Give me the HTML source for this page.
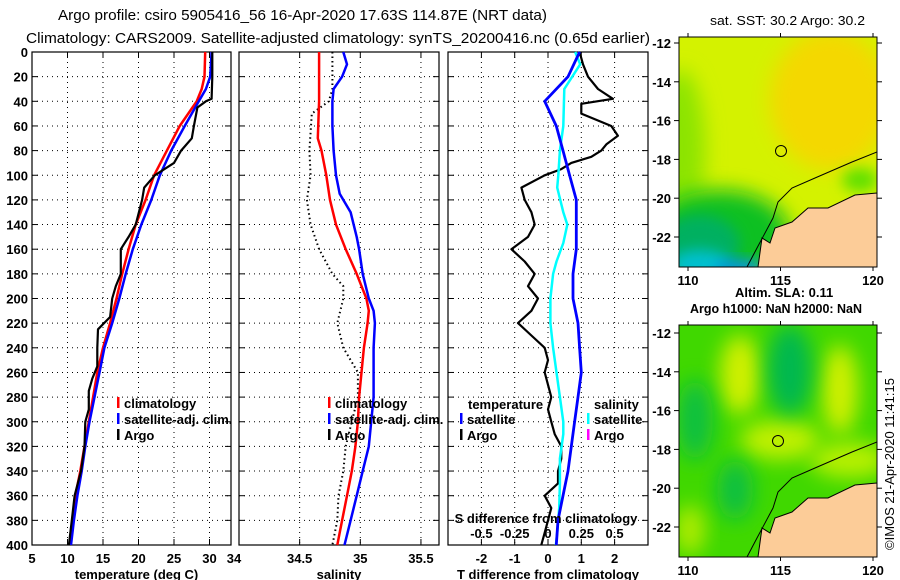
<!DOCTYPE html>
<html><head><meta charset="utf-8"><style>
html,body{margin:0;padding:0;background:#fff;}
svg{display:block;font-family:"Liberation Sans",sans-serif;}
.tk{font-size:13px;font-weight:bold;fill:#000;}
.lg{font-size:13px;font-weight:bold;fill:#000;}
</style></head><body>
<svg id="chart" width="900" height="580" viewBox="0 0 900 580" xmlns="http://www.w3.org/2000/svg">
<defs>
<filter id="bl" x="-50%" y="-50%" width="200%" height="200%"><feGaussianBlur stdDeviation="10"/></filter>
<filter id="bl2" x="-50%" y="-50%" width="200%" height="200%"><feGaussianBlur stdDeviation="7"/></filter>
<clipPath id="c1"><rect x="679" y="37" width="198" height="230"/></clipPath>
<clipPath id="c2"><rect x="679" y="325" width="198" height="232"/></clipPath>
</defs>
<text x="58" y="20" font-size="15" textLength="489" lengthAdjust="spacingAndGlyphs">Argo profile: csiro 5905416_56 16-Apr-2020 17.63S 114.87E (NRT data)</text>
<text x="26" y="43" font-size="15" textLength="624" lengthAdjust="spacingAndGlyphs">Climatology: CARS2009. Satellite-adjusted climatology: synTS_20200416.nc (0.65d earlier)</text>
<g id="panels"></g>
<!-- maps -->
<g>
 <g clip-path="url(#c1)">
  <rect x="679" y="37" width="198" height="230" fill="#d4f200"/>
  <ellipse cx="830" cy="100" rx="60" ry="70" fill="#f4d800" filter="url(#bl)"/>
  <ellipse cx="680" cy="150" rx="25" ry="80" fill="#8ce400" filter="url(#bl)"/>
  <ellipse cx="720" cy="235" rx="70" ry="45" fill="#10c020" filter="url(#bl)"/>
  <ellipse cx="700" cy="245" rx="40" ry="30" fill="#00b060" filter="url(#bl2)"/>
  <ellipse cx="700" cy="265" rx="30" ry="15" fill="#00c0d0" filter="url(#bl2)"/>
  <ellipse cx="740" cy="268" rx="25" ry="8" fill="#0090f0" filter="url(#bl2)"/>
  <ellipse cx="860" cy="180" rx="18" ry="12" fill="#60e000" filter="url(#bl2)"/>
  <path d="M758,267 L762,238 L770,243 L775,228 L792,222 L808,208 L828,208 L855,195 L877,193 L877,267 Z" fill="#fccc98" stroke="#000" stroke-width="1"/>
  <path d="M877,152 L852,162 L815,178 L792,188 L778,202 L773,218 L757,248 L747,267" fill="none" stroke="#000" stroke-width="1"/>
  <circle cx="781" cy="151" r="5.5" fill="none" stroke="#000" stroke-width="1"/>
 </g>
 <rect x="679" y="37" width="198" height="230" fill="none" stroke="#000" stroke-width="1"/>
</g>
<g>
 <g clip-path="url(#c2)">
  <rect x="679" y="325" width="198" height="232" fill="#40d800"/>
  <ellipse cx="740" cy="375" rx="20" ry="40" fill="#d0f000" filter="url(#bl)"/>
  <ellipse cx="840" cy="390" rx="18" ry="45" fill="#d0f000" filter="url(#bl)"/>
  <ellipse cx="780" cy="440" rx="40" ry="20" fill="#c0f000" filter="url(#bl)"/>
  <ellipse cx="790" cy="370" rx="22" ry="45" fill="#00b850" filter="url(#bl)"/>
  <ellipse cx="695" cy="420" rx="18" ry="40" fill="#10c040" filter="url(#bl)"/>
  <ellipse cx="735" cy="490" rx="18" ry="30" fill="#10c040" filter="url(#bl)"/>
  <ellipse cx="850" cy="460" rx="40" ry="18" fill="#b8f000" filter="url(#bl)"/>
  <ellipse cx="690" cy="530" rx="15" ry="25" fill="#b0ec00" filter="url(#bl)"/>
  <path d="M758,557 L762,528 L770,533 L775,518 L792,512 L808,498 L828,498 L855,485 L877,483 L877,557 Z" fill="#fccc98" stroke="#000" stroke-width="1"/>
  <path d="M877,442 L852,452 L815,468 L792,478 L778,492 L773,508 L757,538 L747,557" fill="none" stroke="#000" stroke-width="1"/>
  <circle cx="778" cy="441" r="5.5" fill="none" stroke="#000" stroke-width="1"/>
 </g>
 <rect x="679" y="325" width="198" height="232" fill="none" stroke="#000" stroke-width="1"/>
</g>
<text x="710" y="25" font-size="13" textLength="155" lengthAdjust="spacingAndGlyphs">sat. SST: 30.2 Argo: 30.2</text>
<text class="tk" x="735" y="297">Altim. SLA: 0.11</text>
<text class="tk" x="690" y="313" textLength="172" lengthAdjust="spacingAndGlyphs">Argo h1000: NaN h2000: NaN</text>
<text font-size="13" transform="translate(894,550) rotate(-90)">©IMOS 21-Apr-2020 11:41:15</text>
<g id="mapaxes"></g>
</svg>
<script>
// ---- data ----
const depthT = [0,20,30,40,60,80,100,120,140,160,180,200,220,240,260,280,300,320,340,360,380,400];
const climT  = [29.4,29.3,28.9,28.2,25.8,24.0,22.2,21.0,19.6,18.6,17.7,16.9,16.0,15.0,14.2,13.6,13.0,12.4,11.8,11.1,10.7,10.4];
const satT   = [30.3,30.1,29.5,28.5,26.5,24.6,23.0,21.8,20.4,19.2,18.2,17.3,16.3,15.2,14.5,13.8,13.1,12.5,12.0,11.4,10.9,10.5];
const argoDepthT = [0,20,38,40,45,60,70,80,90,100,110,120,140,150,160,180,190,200,215,225,240,255,265,275,290,300,320,340,360,380,400];
const argoT  = [30.4,30.4,30.3,29.5,28.3,27.8,27.5,26.0,25.0,22.3,20.8,20.5,19.6,18.6,17.5,17.5,16.8,16.3,16.0,14.3,14.2,14.2,13.5,13.0,13.0,12.5,12.4,11.9,11.0,10.6,10.2];
const depthS = [0,40,70,80,100,120,140,160,180,200,210,220,240,260,280,300,320,340,360,380,400];
const climS  = [34.66,34.66,34.65,34.68,34.72,34.75,34.80,34.88,34.97,35.05,35.07,35.06,35.03,35.01,34.99,34.98,34.96,34.93,34.89,34.85,34.81];
const satDepthS = [0,10,20,30,40,60,80,100,115,130,150,160,180,200,210,220,240,260,280,300,320,340,360,380,400];
const satS   = [34.86,34.89,34.85,34.78,34.77,34.77,34.78,34.80,34.83,34.92,34.97,34.99,35.02,35.07,35.11,35.12,35.11,35.11,35.11,35.09,35.07,35.02,34.97,34.92,34.87];
const argoDepthS = [0,30,40,50,80,100,120,140,160,180,190,200,220,240,260,280,300,320,340,360,380,400];
const argoS  = [34.77,34.77,34.74,34.60,34.58,34.59,34.56,34.59,34.66,34.77,34.86,34.86,34.81,34.86,34.98,34.98,34.93,34.88,34.86,34.82,34.81,34.77];
const argoDepthD = [0,10,20,30,38,42,50,60,68,75,80,85,90,95,100,110,120,130,140,150,160,170,180,190,200,210,220,230,240,250,260,270,280,290,300,310,320,330,340,350,360,370,380,390,400];
const argoDT = [0.95,1.05,1.2,1.5,1.95,1.0,1.0,1.9,2.1,1.75,1.6,1.3,0.7,0.4,-0.1,-0.8,-0.7,-0.5,-0.4,-0.6,-1.1,-0.7,-0.4,-0.6,-0.3,-0.5,-0.9,-0.5,-0.1,0.0,-0.1,0.0,0.1,0.0,0.1,0.2,0.4,0.4,0.3,0.3,-0.1,0.1,0.0,-0.1,-0.2];
const depthD = [0,20,40,60,80,100,120,140,160,180,200,220,240,260,280,300,320,340,360,380,400];
const satDT  = [0.95,0.6,-0.1,0.25,0.45,0.65,0.85,0.85,0.85,0.75,0.75,0.9,0.95,1.0,0.9,0.8,0.7,0.6,0.45,0.3,0.25];
const satDepthDS = [0,10,30,60,80,100,110,130,140,155,170,180,200,220,240,260,280,300,310,330,350,370,390,400];
const satDS  = [0.204,0.242,0.122,0.115,0.089,0.077,0.069,0.115,0.145,0.115,0.064,0.038,0.018,0.018,0.038,0.064,0.089,0.115,0.115,0.089,0.089,0.084,0.069,0.059];
const depthTicks = [0,20,40,60,80,100,120,140,160,180,200,220,240,260,280,300,320,340,360,380,400];
const tempTicks = [5,10,15,20,25,30];
const salTicks = [34,34.5,35,35.5];
const dTTicks = [-2,-1,0,1,2];
const dSTicks = [-0.5,-0.25,0,0.25,0.5];
const latTicks = [-12,-14,-16,-18,-20,-22];
const lonTicks = [110,115,120];

// ---- scales ----
const Y0=52, Y1=545;
const yD = d => Y0 + d*(Y1-Y0)/400;
const P1={x0:32,x1:231}, P2={x0:239,x1:439}, P3={x0:448,x1:648};
const xT = t => 32 + (t-5)*7.1;
const xS = s => 239 + (s-34)*121.3;
const xDT = v => 548 + v*33.3;
const xDS = v => 548 + v*133.2;
const NS='http://www.w3.org/2000/svg';
const root=document.getElementById('panels');
function el(tag,attrs,parent){const e=document.createElementNS(NS,tag);for(const k in attrs)e.setAttribute(k,attrs[k]);(parent||root).appendChild(e);return e;}
function txt(s,x,y,anchor,cls,parent){const e=el('text',{x:x,y:y,'text-anchor':anchor,'class':cls},parent);e.textContent=s;return e;}
function line(xs,ds,fx,color,w,dash,name){
  const pts=xs.map((v,i)=>fx(v).toFixed(1)+','+yD(ds[i]).toFixed(1)).join(' ');
  const p=el('polyline',{points:pts,fill:'none',stroke:color,'stroke-width':w,'stroke-linejoin':'round'});
  if(dash)p.setAttribute('stroke-dasharray',dash);
  
  
  return p;
}
function frame(P,name,vticks,fx){
  const g=el('g',{});
  
  
  depthTicks.forEach(d=>{
    if(d>0&&d<400)el('line',{x1:P.x0,x2:P.x1,y1:yD(d),y2:yD(d),stroke:'#000','stroke-width':1,'stroke-dasharray':'1,4'},g);
    el('line',{x1:P.x0,x2:P.x0+6,y1:yD(d),y2:yD(d),stroke:'#000'},g);
    el('line',{x1:P.x1-6,x2:P.x1,y1:yD(d),y2:yD(d),stroke:'#000'},g);
  });
  vticks.forEach(v=>{const x=fx(v); if(x<=P.x0+1||x>=P.x1-1)return;
    el('line',{x1:x,x2:x,y1:Y0,y2:Y1,stroke:'#000','stroke-width':1,'stroke-dasharray':'1,4'},g);
    el('line',{x1:x,x2:x,y1:Y0,y2:Y0+6,stroke:'#000'},g);
    el('line',{x1:x,x2:x,y1:Y1-6,y2:Y1,stroke:'#000'},g);
  });
  el('rect',{x:P.x0,y:Y0,width:P.x1-P.x0,height:Y1-Y0,fill:'none',stroke:'#000','stroke-width':1.2},g);
  return g;
}
// panel 1
frame(P1,'temperature-panel',tempTicks,xT);
depthTicks.forEach(d=>{const t=txt(String(d),28,yD(d)+5,'end','tk');
  
  });
tempTicks.forEach(v=>{const t=txt(String(v),xT(v),563,'middle','tk');
  
  });
txt('34',P2.x0-5,563,'middle','tk');
let at=txt('temperature (deg C)',(P1.x0+P1.x1)/2+5,579,'middle','tk');


line(climT,depthT,xT,'#f00',2.5,null,'climatology-temperature-line');
line(satT,depthT,xT,'#00f',2.5,null,'satellite-temperature-line');
line(argoT,argoDepthT,xT,'#000',2.2,null,'argo-temperature-line');
// panel 2
frame(P2,'salinity-panel',salTicks,xS);
salTicks.slice(1).forEach(v=>{const t=txt(String(v),xS(v),563,'middle','tk');
  
  });
at=txt('salinity',(P2.x0+P2.x1)/2,579,'middle','tk');


line(argoS,argoDepthS,xS,'#000',2,'1.5,3','argo-salinity-line');
line(climS,depthS,xS,'#f00',2.5,null,'climatology-salinity-line');
line(satS,satDepthS,xS,'#00f',2.5,null,'satellite-salinity-line');
// panel 3
frame(P3,'difference-panel',dTTicks,xDT);
dTTicks.forEach(v=>{const t=txt(String(v),xDT(v),563,'middle','tk');
  
  });
at=txt('T difference from climatology',(P3.x0+P3.x1)/2,579,'middle','tk');


line(argoDT,argoDepthD,xDT,'#000',2.2,null,'argo-temp-diff-line');
line(satDS,satDepthDS,xDS,'#0ff',2.5,null,'satellite-sal-diff-line');
line(satDT,depthD,xDT,'#00f',2.8,null,'satellite-temp-diff-line');
at=txt('S difference from climatology',546,523,'middle','tk');


dSTicks.forEach(v=>{const t=txt(String(v),xDS(v),538,'middle','tk');
  
  });
// legends
function legend(x,y,color,label,name){
  const g=el('g',{});
  
  
  el('rect',{x:x,y:y-7,width:2.5,height:11,fill:color},g);
  txt(label,x+7,y+4,'start','lg',g);
}
legend(117,404,'#f00','climatology','legend-climatology-t');
legend(117,420,'#00f','satellite-adj. clim.','legend-satellite-t');
legend(117,436,'#000','Argo','legend-argo-t');
legend(328,404,'#f00','climatology','legend-climatology-s');
legend(328,420,'#00f','satellite-adj. clim.','legend-satellite-s');
legend(328,436,'#000','Argo','legend-argo-s');
at=txt('temperature',468,409,'start','lg');


at=txt('salinity',594,409,'start','lg');


legend(460,420,'#00f','satellite','legend-satellite-dt');
legend(460,436,'#000','Argo','legend-argo-dt');
legend(587,420,'#0ff','satellite','legend-satellite-ds');
legend(587,436,'#f0f','Argo','legend-argo-ds');
// map axes
const ma=document.getElementById('mapaxes');
function mapAxes(top,bottom,latY0,lonLabelY,name){
  const g=el('g',{},ma);
  
  
  const ly = v => latY0 + (-12 - v)*19.4;
  const lx = v => 688 + (v-110)*18.5;
  latTicks.forEach(v=>{const y=ly(v);
    el('line',{x1:674,x2:679,y1:y,y2:y,stroke:'#000'},g);
    el('line',{x1:877,x2:882,y1:y,y2:y,stroke:'#000'},g);
    txt(String(v),671,y+5,'end','tk',g);});
  lonTicks.forEach(v=>{const x=lx(v);
    el('line',{x1:x,x2:x,y1:top-4,y2:top,stroke:'#000'},g);
    el('line',{x1:x,x2:x,y1:bottom,y2:bottom+4,stroke:'#000'},g);
    txt(String(v),x,lonLabelY,'middle','tk',g);});
}
mapAxes(37,267,43,285,'sst-map-axes');
mapAxes(325,557,333,575,'sla-map-axes');
</script>
</body></html>
